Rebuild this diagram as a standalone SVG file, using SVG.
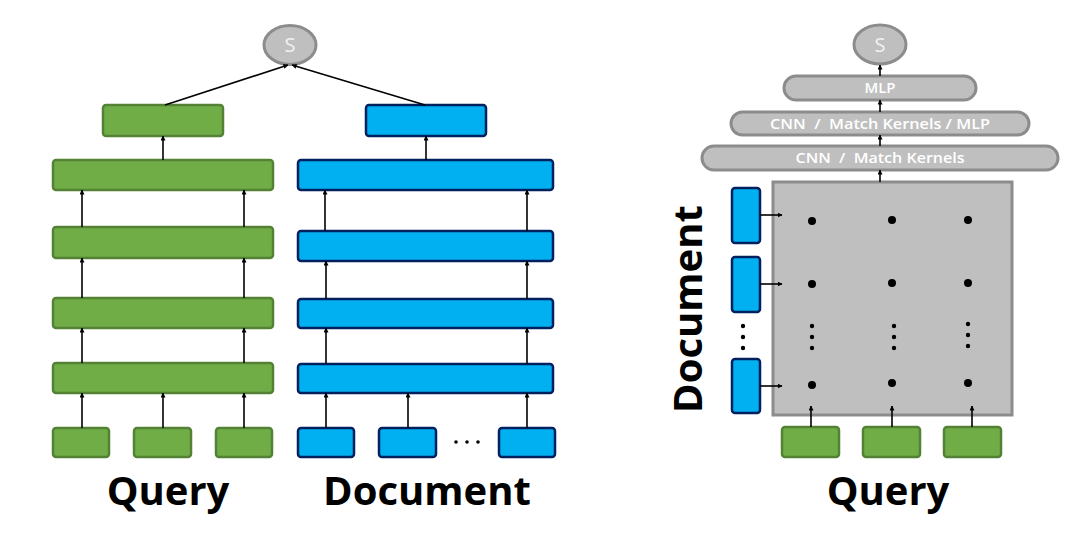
<svg xmlns="http://www.w3.org/2000/svg" width="1080" height="540" viewBox="0 0 1080 540">
<defs>
<marker id="ah" viewBox="0 0 10 10" refX="9" refY="5" markerWidth="5" markerHeight="5" orient="auto" markerUnits="userSpaceOnUse"><path d="M0,0 L10,5 L0,10 z" fill="#000"/></marker>
<style>
.g{fill:#70AD47;stroke:#548235;stroke-width:2.5}
.b{fill:#00B0F0;stroke:#002060;stroke-width:2.5}
.gr{fill:#BFBFBF;stroke:#8C8C8C;stroke-width:3}
.c{stroke:#000;stroke-width:1.6;fill:none;marker-end:url(#ah)}
.lbl{font-family:"Open Sans","Liberation Sans",sans-serif;font-weight:bold;font-size:40px;fill:#000}
.pt{font-family:"Open Sans","Liberation Sans",sans-serif;font-weight:600;font-size:14px;fill:#fff;text-anchor:middle}
.st{font-family:"Open Sans","Liberation Sans",sans-serif;font-size:20px;fill:#F2F2F2;text-anchor:middle}
.d{fill:#000}
</style>
</defs>
<rect width="1080" height="540" fill="#fff"/>

<!-- Left: representation-based -->
<g id="s-left"><ellipse class="gr" cx="290" cy="45" rx="26" ry="19.5"/><text class="st" x="290" y="52">S</text></g>
<g id="q-top"><rect class="g" x="103" y="105" width="120" height="31" rx="3"/></g>
<g id="d-top"><rect class="b" x="366" y="105" width="120" height="31" rx="3"/></g>
<g id="q-l1"><rect class="g" x="53" y="160" width="220" height="30" rx="3"/></g>
<g id="q-l2"><rect class="g" x="53" y="227" width="220" height="31" rx="3"/></g>
<g id="q-l3"><rect class="g" x="53" y="298" width="220" height="30" rx="3"/></g>
<g id="q-l4"><rect class="g" x="53" y="363" width="220" height="30" rx="3"/></g>
<g id="q-in1"><rect class="g" x="53" y="428" width="56" height="29" rx="3"/></g>
<g id="q-in2"><rect class="g" x="134" y="428" width="57" height="29" rx="3"/></g>
<g id="q-in3"><rect class="g" x="216" y="428" width="56" height="29" rx="3"/></g>
<g id="d-l1"><rect class="b" x="298" y="160" width="255" height="30" rx="3"/></g>
<g id="d-l2"><rect class="b" x="298" y="231" width="255" height="30" rx="3"/></g>
<g id="d-l3"><rect class="b" x="298" y="299" width="255" height="29" rx="3"/></g>
<g id="d-l4"><rect class="b" x="298" y="364" width="255" height="29" rx="3"/></g>
<g id="d-in1"><rect class="b" x="298" y="428" width="56" height="29" rx="3"/></g>
<g id="d-in2"><rect class="b" x="379" y="428" width="57" height="29" rx="3"/></g>
<g id="d-in3"><rect class="b" x="499" y="428" width="56" height="29" rx="3"/></g>
<g id="d-ellipsis"><circle class="d" cx="456" cy="442" r="1.8"/><circle class="d" cx="467" cy="442" r="1.8"/><circle class="d" cx="478" cy="442" r="1.8"/></g>
<g id="label-query-left"><text class="lbl" x="168" y="505" text-anchor="middle">Query</text></g>
<g id="label-doc-left"><text class="lbl" x="427" y="505" text-anchor="middle">Document</text></g>

<!-- Right: interaction-based -->
<g id="s-right"><ellipse class="gr" cx="880" cy="44.5" rx="26" ry="19.5"/><text class="st" x="880" y="51.5">S</text></g>
<g id="mlp"><rect class="gr" x="784" y="76" width="192" height="24" rx="12"/><text class="pt" x="880" y="93" textLength="31" lengthAdjust="spacingAndGlyphs">MLP</text></g>
<g id="cnn-mk-mlp"><rect class="gr" x="731" y="112" width="298" height="23" rx="11.5"/><text class="pt" x="880" y="129" textLength="220" lengthAdjust="spacingAndGlyphs" xml:space="preserve">CNN  /  Match Kernels / MLP</text></g>
<g id="cnn-mk"><rect class="gr" x="702" y="146" width="356" height="24" rx="12"/><text class="pt" x="880" y="163" textLength="169" lengthAdjust="spacingAndGlyphs" xml:space="preserve">CNN  /  Match Kernels</text></g>
<g id="matrix"><rect class="gr" x="773" y="182" width="239" height="233"/>
<circle class="d" cx="812" cy="221" r="4"/><circle class="d" cx="892" cy="220" r="4"/><circle class="d" cx="968" cy="220" r="4"/>
<circle class="d" cx="812" cy="284" r="4"/><circle class="d" cx="892" cy="283" r="4"/><circle class="d" cx="968" cy="283" r="4"/>
<circle class="d" cx="812" cy="385" r="4"/><circle class="d" cx="892" cy="383" r="4"/><circle class="d" cx="968" cy="383" r="4"/>
<circle class="d" cx="812" cy="326" r="2.2"/><circle class="d" cx="812" cy="337" r="2.2"/><circle class="d" cx="812" cy="348" r="2.2"/>
<circle class="d" cx="894" cy="326" r="2.2"/><circle class="d" cx="894" cy="337" r="2.2"/><circle class="d" cx="894" cy="348" r="2.2"/>
<circle class="d" cx="968" cy="324" r="2.2"/><circle class="d" cx="968" cy="335" r="2.2"/><circle class="d" cx="968" cy="346" r="2.2"/>
</g>
<g id="md1"><rect class="b" x="732" y="188" width="28" height="55" rx="3"/></g>
<g id="md2"><rect class="b" x="732" y="257" width="28" height="55" rx="3"/></g>
<g id="md3"><rect class="b" x="732" y="359" width="28" height="54" rx="3"/></g>
<g id="md-ellipsis"><circle class="d" cx="743" cy="326" r="2.2"/><circle class="d" cx="743" cy="337" r="2.2"/><circle class="d" cx="743" cy="348" r="2.2"/></g>
<g id="mq1"><rect class="g" x="782" y="427" width="57" height="30" rx="3"/></g>
<g id="mq2"><rect class="g" x="863" y="427" width="57" height="30" rx="3"/></g>
<g id="mq3"><rect class="g" x="944" y="427" width="57" height="30" rx="3"/></g>
<g id="label-doc-right"><text class="lbl" transform="translate(702,309) rotate(-90)" text-anchor="middle">Document</text></g>
<g id="label-query-right"><text class="lbl" x="888" y="505" text-anchor="middle">Query</text></g>

<g id="connectors">
<line class="c" x1="165" y1="105" x2="288" y2="65"/>
<line class="c" x1="425" y1="105" x2="292" y2="65"/>
<line class="c" x1="163" y1="160" x2="163" y2="136"/>
<line class="c" x1="426" y1="160" x2="426" y2="136"/>
<line class="c" x1="82" y1="227" x2="82" y2="190"/>
<line class="c" x1="244" y1="227" x2="244" y2="190"/>
<line class="c" x1="82" y1="298" x2="82" y2="258"/>
<line class="c" x1="244" y1="298" x2="244" y2="258"/>
<line class="c" x1="82" y1="363" x2="82" y2="328"/>
<line class="c" x1="244" y1="363" x2="244" y2="328"/>
<line class="c" x1="82" y1="428" x2="82" y2="393"/>
<line class="c" x1="163" y1="428" x2="163" y2="393"/>
<line class="c" x1="244" y1="428" x2="244" y2="393"/>
<line class="c" x1="325" y1="231" x2="325" y2="190"/>
<line class="c" x1="527" y1="231" x2="527" y2="190"/>
<line class="c" x1="326" y1="299" x2="326" y2="261"/>
<line class="c" x1="527" y1="299" x2="527" y2="261"/>
<line class="c" x1="326" y1="364" x2="326" y2="328"/>
<line class="c" x1="527" y1="364" x2="527" y2="328"/>
<line class="c" x1="326" y1="428" x2="326" y2="393"/>
<line class="c" x1="408" y1="428" x2="408" y2="393"/>
<line class="c" x1="527" y1="428" x2="527" y2="393"/>
<line class="c" x1="880" y1="182" x2="880" y2="170"/>
<line class="c" x1="880" y1="146" x2="880" y2="135"/>
<line class="c" x1="880" y1="112" x2="880" y2="100"/>
<line class="c" x1="880" y1="76" x2="880" y2="65"/>
<line class="c" x1="760" y1="215" x2="782" y2="215"/>
<line class="c" x1="760" y1="284" x2="782" y2="284"/>
<line class="c" x1="760" y1="386" x2="782" y2="386"/>
<line class="c" x1="811" y1="427" x2="811" y2="406"/>
<line class="c" x1="892" y1="427" x2="892" y2="406"/>
<line class="c" x1="972" y1="427" x2="972" y2="406"/>
</g>
</svg>
